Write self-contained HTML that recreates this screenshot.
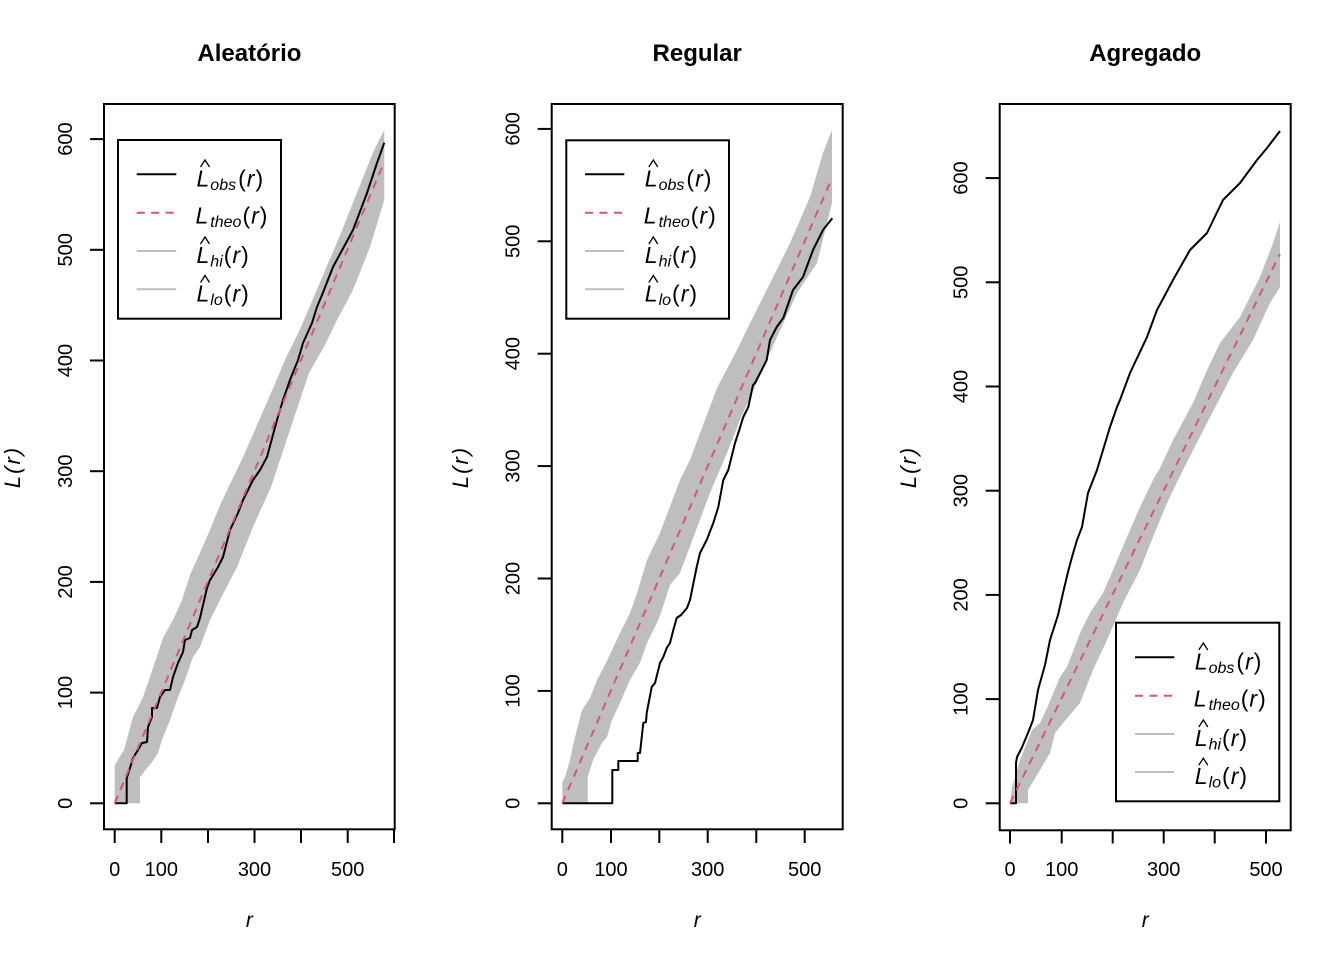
<!DOCTYPE html>
<html>
<head>
<meta charset="utf-8">
<style>
html,body{margin:0;padding:0;background:#fff;}
svg{display:block;}
text{font-family:"Liberation Sans",Arial,sans-serif;fill:#000;}
</style>
</head>
<body>
<svg width="1344" height="960" viewBox="0 0 1344 960" xmlns="http://www.w3.org/2000/svg">
<rect width="1344" height="960" fill="#fff"/>

<!-- ================= PANEL 1 ================= -->
<g>
<polygon fill="#BEBEBE" stroke="none" points="114.7,803.3 114.7,765 124,750 133,717 143,697 153,668 163,638 173,620 182,600 190,575 207,537 221,503 243,457 268,400 285,360 301,327 321,280 341,233 358,190 374,150 384.3,130 384.3,200 370,247 353,290 337,320 325,345 309,373 289,433 271,487 253,527 237,567 220,600 210,620 200,647 193,657 185,680 177,700 170,720 162,740 158,753 152,762 140,777 140,803.3"/>
<polyline fill="none" stroke="#000" stroke-width="2" stroke-linejoin="round" points="114.7,803.3 126.7,803.3 126.7,778 130,768 133,758 138,750 142,743 147,742 148,727 152,717 152,708 157,708 160,697 165,690 170,690 173,677 178,663 183,652 185,640 190,638 192,630 197,627 200,618 203,605 207,588 210,580 212,577 218,567 223,557 230,530 238,513 243,500 253,480 260,470 267,457 277,420 283,400 290,380 298,360 303,343 312,323 317,307 322,295 333,267 353,230 367,193 377,163 384.3,142.7"/>
<line x1="114.7" y1="803.3" x2="384.3" y2="161.7" stroke="#DF536B" stroke-width="2" stroke-dasharray="8,6.5"/>
<rect x="104" y="104" width="290.7" height="725.3" fill="none" stroke="#000" stroke-width="2"/>
<g stroke="#000" stroke-width="2">
<line x1="114.7" y1="829.3" x2="114.7" y2="843"/>
<line x1="161.3" y1="829.3" x2="161.3" y2="843"/>
<line x1="208" y1="829.3" x2="208" y2="843"/>
<line x1="254.5" y1="829.3" x2="254.5" y2="843"/>
<line x1="301" y1="829.3" x2="301" y2="843"/>
<line x1="347.7" y1="829.3" x2="347.7" y2="843"/>
<line x1="394" y1="829.3" x2="394" y2="843"/>
<line x1="90" y1="803.3" x2="104" y2="803.3"/>
<line x1="90" y1="692.6" x2="104" y2="692.6"/>
<line x1="90" y1="581.9" x2="104" y2="581.9"/>
<line x1="90" y1="471.2" x2="104" y2="471.2"/>
<line x1="90" y1="360.5" x2="104" y2="360.5"/>
<line x1="90" y1="249.8" x2="104" y2="249.8"/>
<line x1="90" y1="139.1" x2="104" y2="139.1"/>
</g>
<g font-size="20" text-anchor="middle">
<text x="114.7" y="876">0</text>
<text x="161.3" y="876">100</text>
<text x="254.5" y="876">300</text>
<text x="347.7" y="876">500</text>
<text transform="translate(72,803.3) rotate(-90)">0</text>
<text transform="translate(72,692.6) rotate(-90)">100</text>
<text transform="translate(72,581.9) rotate(-90)">200</text>
<text transform="translate(72,471.2) rotate(-90)">300</text>
<text transform="translate(72,360.5) rotate(-90)">400</text>
<text transform="translate(72,249.8) rotate(-90)">500</text>
<text transform="translate(72,139.1) rotate(-90)">600</text>
</g>
<text x="249.4" y="61" font-size="24" font-weight="bold" text-anchor="middle">Aleatório</text>
<text x="249.4" y="927" font-size="21" font-style="italic" text-anchor="middle">r</text>
<text transform="translate(20,467) rotate(-90)" font-size="22" font-style="italic" letter-spacing="2" text-anchor="middle">L(r)</text>
<rect x="118" y="140" width="163" height="178.7" fill="#fff" stroke="#000" stroke-width="2"/>
<line x1="136.7" y1="174.3" x2="176.3" y2="174.3" stroke="#000" stroke-width="2"/>
<line x1="136.7" y1="212.7" x2="176.3" y2="212.7" stroke="#DF536B" stroke-width="2" stroke-dasharray="8,6.5"/>
<line x1="136.7" y1="251" x2="176.3" y2="251" stroke="#BEBEBE" stroke-width="2"/>
<line x1="136.7" y1="289.3" x2="176.3" y2="289.3" stroke="#BEBEBE" stroke-width="2"/>
<g font-style="italic" font-size="23">
<text x="196.5" y="186.3">L<tspan font-size="16" dx="1" dy="3.5">obs</tspan><tspan dy="-3.5" dx="2" font-style="normal">(</tspan><tspan dx="1">r</tspan><tspan font-style="normal" dx="1">)</tspan></text>
<text x="195.5" y="223.5">L<tspan font-size="16" dx="2" dy="3.5">theo</tspan><tspan dy="-3.5" dx="1" font-style="normal">(</tspan><tspan dx="1">r</tspan><tspan font-style="normal" dx="1">)</tspan></text>
<text x="196.5" y="263">L<tspan font-size="16" dx="1" dy="3.5">hi</tspan><tspan dy="-3.5" dx="1" font-style="normal">(</tspan><tspan dx="1">r</tspan><tspan font-style="normal" dx="1">)</tspan></text>
<text x="196.5" y="301.5">L<tspan font-size="16" dx="1" dy="3.5">lo</tspan><tspan dy="-3.5" dx="1" font-style="normal">(</tspan><tspan dx="1">r</tspan><tspan font-style="normal" dx="1">)</tspan></text>
</g>
<g fill="none" stroke="#000" stroke-width="1.3">
<polyline points="200.5,167 205,160 209.5,167"/>
<polyline points="200.5,244 205,237 209.5,244"/>
<polyline points="200.5,282.5 205,275.5 209.5,282.5"/>
</g>
</g>

<!-- ================= PANEL 2 ================= -->
<g>
<polygon fill="#BEBEBE" stroke="none" points="562.3,803.3 562.3,782 565,777 570,760 573,745 582,710 590,698 597,680 605,665 612,650 620,633 630,613 637,593 647,560 660,533 680,480 690,460 700,433 717,388 737,350 750,323 773,277 790,243 810,197 823,153 832,130 832,203 817,263 797,293 777,337 757,382 740,420 727,453 710,493 680,573 670,585 662,610 657,623 647,643 640,663 630,680 620,703 612,720 607,737 602,743 593,760 587.7,777 587.7,803.3"/>
<polyline fill="none" stroke="#000" stroke-width="2" stroke-linejoin="round" points="562.3,803.3 612.3,803.3 612.3,770 618.3,770 618.3,761 637.7,761 637.7,753 640,753 643.3,723 646,722 646.7,713 651.7,687 655,683 660,663 663.3,657 666.7,648 670,643 673.3,630 676.7,618 681,615 687,608 690,600 696.7,567 700,553 706.7,540 713.3,523 718.3,507 723.3,480 728.3,470 735,443 738.3,433 743.3,417 748.3,407 753,385 755,383 761.7,370 766.7,360 770,340 776.7,327 783.3,318 793,290 803,277 813,250 823,230 832.3,218.3"/>
<line x1="562.3" y1="803.3" x2="831.8" y2="178.4" stroke="#DF536B" stroke-width="2" stroke-dasharray="8,6.5"/>
<rect x="551.7" y="104" width="291" height="725.3" fill="none" stroke="#000" stroke-width="2"/>
<g stroke="#000" stroke-width="2">
<line x1="562.3" y1="829.3" x2="562.3" y2="843"/>
<line x1="611" y1="829.3" x2="611" y2="843"/>
<line x1="659.3" y1="829.3" x2="659.3" y2="843"/>
<line x1="707.7" y1="829.3" x2="707.7" y2="843"/>
<line x1="756.3" y1="829.3" x2="756.3" y2="843"/>
<line x1="804.7" y1="829.3" x2="804.7" y2="843"/>
<line x1="537.7" y1="803.3" x2="551.7" y2="803.3"/>
<line x1="537.7" y1="690.9" x2="551.7" y2="690.9"/>
<line x1="537.7" y1="578.5" x2="551.7" y2="578.5"/>
<line x1="537.7" y1="466.1" x2="551.7" y2="466.1"/>
<line x1="537.7" y1="353.7" x2="551.7" y2="353.7"/>
<line x1="537.7" y1="241.3" x2="551.7" y2="241.3"/>
<line x1="537.7" y1="128.9" x2="551.7" y2="128.9"/>
</g>
<g font-size="20" text-anchor="middle">
<text x="562.3" y="876">0</text>
<text x="611" y="876">100</text>
<text x="707.7" y="876">300</text>
<text x="804.7" y="876">500</text>
<text transform="translate(519.7,803.3) rotate(-90)">0</text>
<text transform="translate(519.7,690.9) rotate(-90)">100</text>
<text transform="translate(519.7,578.5) rotate(-90)">200</text>
<text transform="translate(519.7,466.1) rotate(-90)">300</text>
<text transform="translate(519.7,353.7) rotate(-90)">400</text>
<text transform="translate(519.7,241.3) rotate(-90)">500</text>
<text transform="translate(519.7,128.9) rotate(-90)">600</text>
</g>
<text x="697.2" y="61" font-size="24" font-weight="bold" text-anchor="middle">Regular</text>
<text x="697.2" y="927" font-size="21" font-style="italic" text-anchor="middle">r</text>
<text transform="translate(468,467) rotate(-90)" font-size="22" font-style="italic" letter-spacing="2" text-anchor="middle">L(r)</text>
<rect x="566.3" y="140.3" width="162.7" height="178.4" fill="#fff" stroke="#000" stroke-width="2"/>
<line x1="585" y1="174.3" x2="624.3" y2="174.3" stroke="#000" stroke-width="2"/>
<line x1="585" y1="212.7" x2="624.3" y2="212.7" stroke="#DF536B" stroke-width="2" stroke-dasharray="8,6.5"/>
<line x1="585" y1="251" x2="624.3" y2="251" stroke="#BEBEBE" stroke-width="2"/>
<line x1="585" y1="289.3" x2="624.3" y2="289.3" stroke="#BEBEBE" stroke-width="2"/>
<g font-style="italic" font-size="23">
<text x="644.8" y="186.3">L<tspan font-size="16" dx="1" dy="3.5">obs</tspan><tspan dy="-3.5" dx="2" font-style="normal">(</tspan><tspan dx="1">r</tspan><tspan font-style="normal" dx="1">)</tspan></text>
<text x="643.8" y="223.5">L<tspan font-size="16" dx="2" dy="3.5">theo</tspan><tspan dy="-3.5" dx="1" font-style="normal">(</tspan><tspan dx="1">r</tspan><tspan font-style="normal" dx="1">)</tspan></text>
<text x="644.8" y="263">L<tspan font-size="16" dx="1" dy="3.5">hi</tspan><tspan dy="-3.5" dx="1" font-style="normal">(</tspan><tspan dx="1">r</tspan><tspan font-style="normal" dx="1">)</tspan></text>
<text x="644.8" y="301.5">L<tspan font-size="16" dx="1" dy="3.5">lo</tspan><tspan dy="-3.5" dx="1" font-style="normal">(</tspan><tspan dx="1">r</tspan><tspan font-style="normal" dx="1">)</tspan></text>
</g>
<g fill="none" stroke="#000" stroke-width="1.3">
<polyline points="648.8,167 653.3,160 657.8,167"/>
<polyline points="648.8,244 653.3,237 657.8,244"/>
<polyline points="648.8,282.5 653.3,275.5 657.8,282.5"/>
</g>
</g>

<!-- ================= PANEL 3 ================= -->
<g>
<polygon fill="#BEBEBE" stroke="none" points="1010,803.3 1012,787 1015,778 1020,760 1032,730 1040,723 1047,708 1060,677 1067,667 1080,633 1090,613 1103,593 1113,570 1127,537 1140,507 1153,480 1160,468 1173,440 1193,403 1207,370 1220,343 1240,317 1260,277 1273,243 1280,222 1280,287 1270,303 1253,340 1233,373 1207,423 1183,470 1167,503 1153,537 1140,570 1123,603 1107,640 1093,670 1080,703 1063,723 1055,733 1050,753 1040,770 1028,790 1028,803.3"/>
<polyline fill="none" stroke="#000" stroke-width="2" stroke-linejoin="round" points="1010,803.3 1016,803.3 1016,763 1017,757 1021.7,748 1028,733 1033,720 1038,690 1045,665 1050,640 1058,615 1063,593 1068,572 1072,557 1077,540 1082,527 1088,493 1097,470 1100,460 1110,427 1117,407 1120,400 1130,373 1147,337 1157,310 1173,280 1190,250 1207,233 1223,200 1240,183 1257,160 1267,148 1280,131"/>
<line x1="1010" y1="803.3" x2="1279.8" y2="254.2" stroke="#DF536B" stroke-width="2" stroke-dasharray="8,6.5"/>
<rect x="999.7" y="104" width="291" height="726.3" fill="none" stroke="#000" stroke-width="2"/>
<g stroke="#000" stroke-width="2">
<line x1="1010" y1="830.3" x2="1010" y2="843.5"/>
<line x1="1061.7" y1="830.3" x2="1061.7" y2="843.5"/>
<line x1="1112.7" y1="830.3" x2="1112.7" y2="843.5"/>
<line x1="1163.7" y1="830.3" x2="1163.7" y2="843.5"/>
<line x1="1214.7" y1="830.3" x2="1214.7" y2="843.5"/>
<line x1="1266" y1="830.3" x2="1266" y2="843.5"/>
<line x1="985.7" y1="803.3" x2="999.7" y2="803.3"/>
<line x1="985.7" y1="699.1" x2="999.7" y2="699.1"/>
<line x1="985.7" y1="594.9" x2="999.7" y2="594.9"/>
<line x1="985.7" y1="490.7" x2="999.7" y2="490.7"/>
<line x1="985.7" y1="386.5" x2="999.7" y2="386.5"/>
<line x1="985.7" y1="282.3" x2="999.7" y2="282.3"/>
<line x1="985.7" y1="178.1" x2="999.7" y2="178.1"/>
</g>
<g font-size="20" text-anchor="middle">
<text x="1010" y="876">0</text>
<text x="1061.7" y="876">100</text>
<text x="1163.7" y="876">300</text>
<text x="1266" y="876">500</text>
<text transform="translate(967.7,803.3) rotate(-90)">0</text>
<text transform="translate(967.7,699.1) rotate(-90)">100</text>
<text transform="translate(967.7,594.9) rotate(-90)">200</text>
<text transform="translate(967.7,490.7) rotate(-90)">300</text>
<text transform="translate(967.7,386.5) rotate(-90)">400</text>
<text transform="translate(967.7,282.3) rotate(-90)">500</text>
<text transform="translate(967.7,178.1) rotate(-90)">600</text>
</g>
<text x="1145.2" y="61" font-size="24" font-weight="bold" text-anchor="middle">Agregado</text>
<text x="1145.2" y="927" font-size="21" font-style="italic" text-anchor="middle">r</text>
<text transform="translate(916,467) rotate(-90)" font-size="22" font-style="italic" letter-spacing="2" text-anchor="middle">L(r)</text>
<rect x="1116" y="622.7" width="163.3" height="178.6" fill="#fff" stroke="#000" stroke-width="2"/>
<line x1="1135" y1="657.3" x2="1174.3" y2="657.3" stroke="#000" stroke-width="2"/>
<line x1="1135" y1="695.7" x2="1174.3" y2="695.7" stroke="#DF536B" stroke-width="2" stroke-dasharray="8,6.5"/>
<line x1="1135" y1="734" x2="1174.3" y2="734" stroke="#BEBEBE" stroke-width="2"/>
<line x1="1135" y1="772" x2="1174.3" y2="772" stroke="#BEBEBE" stroke-width="2"/>
<g font-style="italic" font-size="23">
<text x="1194.8" y="669.3">L<tspan font-size="16" dx="1" dy="3.5">obs</tspan><tspan dy="-3.5" dx="2" font-style="normal">(</tspan><tspan dx="1">r</tspan><tspan font-style="normal" dx="1">)</tspan></text>
<text x="1193.8" y="706.5">L<tspan font-size="16" dx="2" dy="3.5">theo</tspan><tspan dy="-3.5" dx="1" font-style="normal">(</tspan><tspan dx="1">r</tspan><tspan font-style="normal" dx="1">)</tspan></text>
<text x="1194.8" y="746">L<tspan font-size="16" dx="1" dy="3.5">hi</tspan><tspan dy="-3.5" dx="1" font-style="normal">(</tspan><tspan dx="1">r</tspan><tspan font-style="normal" dx="1">)</tspan></text>
<text x="1194.8" y="784.2">L<tspan font-size="16" dx="1" dy="3.5">lo</tspan><tspan dy="-3.5" dx="1" font-style="normal">(</tspan><tspan dx="1">r</tspan><tspan font-style="normal" dx="1">)</tspan></text>
</g>
<g fill="none" stroke="#000" stroke-width="1.3">
<polyline points="1198.8,650 1203.3,643 1207.8,650"/>
<polyline points="1198.8,727 1203.3,720 1207.8,727"/>
<polyline points="1198.8,765.2 1203.3,758.2 1207.8,765.2"/>
</g>
</g>
</svg>
</body>
</html>
